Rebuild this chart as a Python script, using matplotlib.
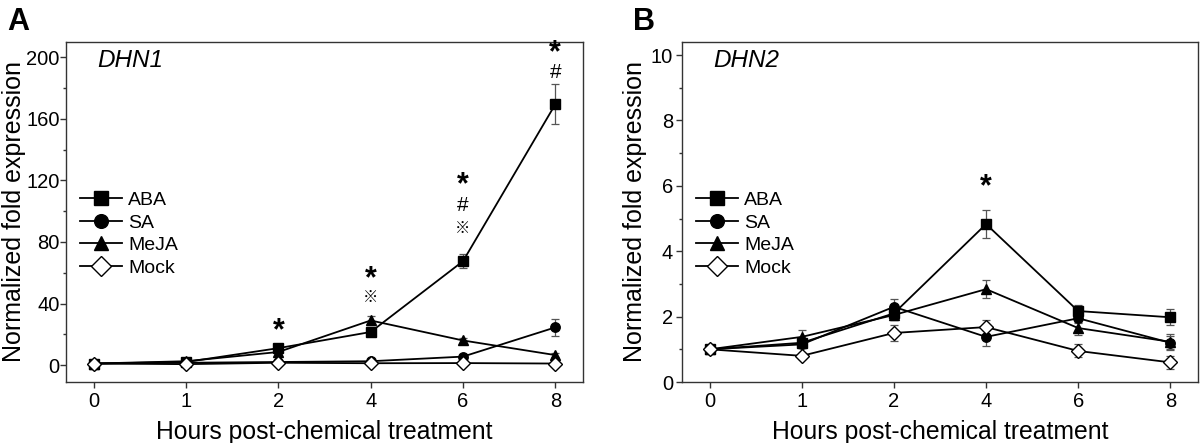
import matplotlib
matplotlib.use('Agg')
import matplotlib.pyplot as plt
from matplotlib.ticker import MultipleLocator

plt.rcParams['font.family'] = ['Liberation Sans', 'DejaVu Sans', 'Noto Sans CJK SC']

hours = ['0', '1', '2', '4', '6', '8']
series = ['ABA', 'SA', 'MeJA', 'Mock']

# Panel A: DHN1
dhn1_aba = [1, 2, 11, 21.5, 67.5, 169.5]
dhn1_aba_err = [0.5, 0.8, 1.5, 2, 4.5, 13]
dhn1_sa = [1, 1.5, 2, 2.5, 5.5, 24.5]
dhn1_sa_err = [0.5, 0.5, 0.8, 1, 1.5, 5.5]
dhn1_meja = [1, 2.5, 8.5, 29, 16, 6.5]
dhn1_meja_err = [0.5, 0.8, 1.5, 3, 1.5, 1.5]
dhn1_mock = [1, 0.6, 1.5, 1.2, 1.3, 1]
dhn1_mock_err = [0.5, 0.5, 0.8, 0.6, 0.6, 0.6]

# Panel B: DHN2
dhn2_aba = [1.0, 1.2, 2.1, 4.83, 2.17, 1.98]
dhn2_aba_err = [0.05, 0.15, 0.2, 0.42, 0.2, 0.24]
dhn2_sa = [1.0, 1.15, 2.3, 1.38, 1.95, 1.2]
dhn2_sa_err = [0.05, 0.12, 0.24, 0.27, 0.15, 0.2]
dhn2_meja = [1.0, 1.38, 2.05, 2.84, 1.65, 1.23]
dhn2_meja_err = [0.05, 0.2, 0.15, 0.27, 0.2, 0.25]
dhn2_mock = [1.0, 0.8, 1.5, 1.68, 0.95, 0.6]
dhn2_mock_err = [0.05, 0.1, 0.25, 0.22, 0.2, 0.2]

# significance marks: (hour index, y value, symbol)
dhn1_marks = [(2, 22, '*'), (3, 56, '*'), (3, 44, '※'), (4, 117, '*'), (4, 104, '#'),
              (4, 89, '※'), (5, 203, '*'), (5, 190, '#')]
dhn2_marks = [(3, 5.95, '*')]

markers = ['s', 'o', '^', 'D']
faces = ['black', 'black', 'black', 'white']

fig = plt.figure(figsize=(12, 4.43), dpi=100)
axA = fig.add_axes([66/1200, 61/443, 517/1200, 340/443])
axB = fig.add_axes([682/1200, 61/443, 516/1200, 340/443])

x = list(range(len(hours)))


def draw(ax, vals, errs, marks, ylim, major, minor, gene, ypad, ylpad):
    for name, v, e, m, fc in zip(series, vals, errs, markers, faces):
        ax.errorbar(x, v, yerr=e, fmt='none', ecolor='#555555', elinewidth=0.9,
                    capsize=3.2, capthick=0.9, zorder=2)
        ax.plot(x, v, color='black', lw=1.3, marker=m, markersize=6.8,
                markerfacecolor=fc, markeredgecolor='black', markeredgewidth=1.0,
                label=name, zorder=3)
    for xi, yv, s in marks:
        if s == '*':
            ax.text(xi, yv, s, ha='center', va='center', fontsize=22, fontweight='bold')
        elif s == '#':
            ax.text(xi, yv, s, ha='center', va='center', fontsize=15)
        else:
            ax.text(xi, yv, s, ha='center', va='center', fontsize=11,
                    family=['Noto Sans CJK SC', 'DejaVu Sans'])
    ax.set_xlim(-0.3, 5.3)
    ax.set_ylim(*ylim)
    ax.set_xticks(x)
    ax.set_xticklabels(hours)
    ax.yaxis.set_major_locator(MultipleLocator(major))
    ax.yaxis.set_minor_locator(MultipleLocator(minor))
    ax.tick_params(axis='both', which='major', direction='out', length=4, width=1,
                   labelsize=14.5, color='#333333')
    ax.tick_params(axis='x', which='major', pad=3)
    ax.tick_params(axis='y', which='major', pad=ypad)
    ax.tick_params(axis='y', which='minor', direction='out', length=2.5, width=1,
                   color='#333333')
    for sp in ax.spines.values():
        sp.set_color('#333333')
        sp.set_linewidth(1.0)
    ax.set_xlabel('Hours post-chemical treatment', fontsize=17.8, labelpad=7)
    ax.set_ylabel('Normalized fold expression', fontsize=18, labelpad=ylpad)
    ax.text(0.06, 0.926, gene, transform=ax.transAxes, fontsize=17.5, style='italic',
            ha='left', va='baseline')
    ax.legend(loc='upper left', bbox_to_anchor=(0.0, 0.60), frameon=False,
              fontsize=14, markerscale=1.45, handlelength=2.2, handletextpad=0.3,
              labelspacing=0.25, borderaxespad=0.3)


draw(axA, [dhn1_aba, dhn1_sa, dhn1_meja, dhn1_mock],
     [dhn1_aba_err, dhn1_sa_err, dhn1_meja_err, dhn1_mock_err],
     dhn1_marks, (-11, 210), 40, 20, 'DHN1', 0.5, 0)
draw(axB, [dhn2_aba, dhn2_sa, dhn2_meja, dhn2_mock],
     [dhn2_aba_err, dhn2_sa_err, dhn2_meja_err, dhn2_mock_err],
     dhn2_marks, (0, 10.4), 2, 1, 'DHN2', 2.5, 3)

fig.text(7/1200, 1 - 30/443, 'A', fontsize=22, fontweight='bold', ha='left', va='baseline')
fig.text(633/1200, 1 - 30/443, 'B', fontsize=22, fontweight='bold', ha='left', va='baseline')

fig.savefig('out.png', dpi=100)
